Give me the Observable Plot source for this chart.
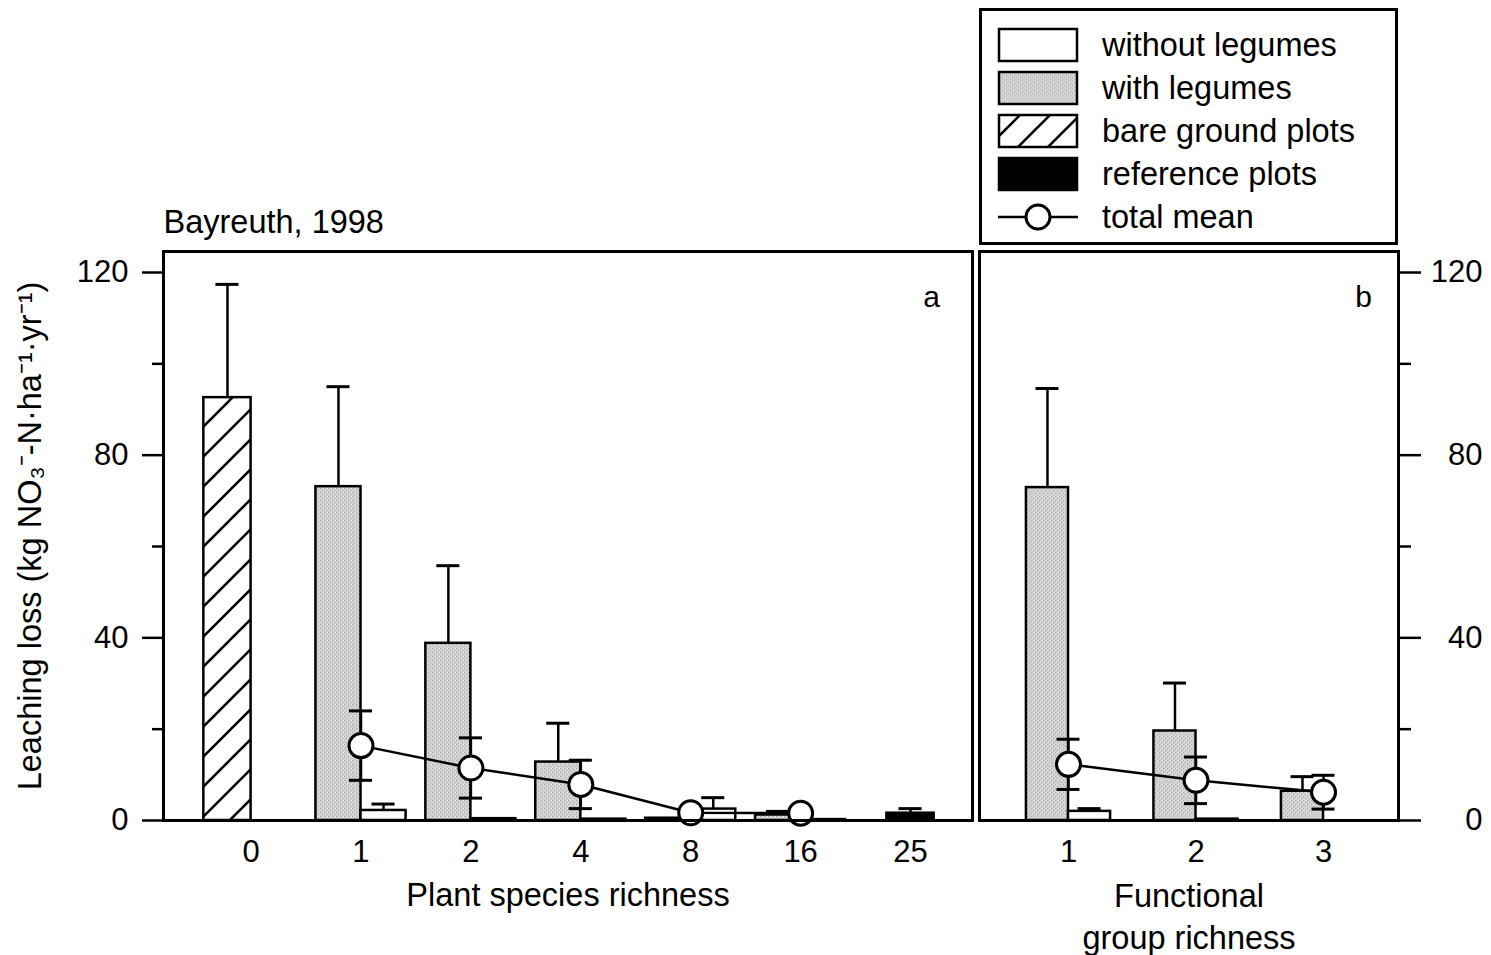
<!DOCTYPE html>
<html>
<head>
<meta charset="utf-8">
<script src="https://cdn.jsdelivr.net/npm/d3@7"></script>
<script src="https://cdn.jsdelivr.net/npm/@observablehq/plot@0.6"></script>
<style>
  html, body { margin: 0; padding: 0; background: #fff; overflow: hidden; }
  #wrap { position: relative; width: 1491px; height: 955px; overflow: hidden;
          font-family: "Liberation Sans", Arial, Helvetica, sans-serif; }
  #wrap > svg { position: absolute; top: 0; }
</style>
</head>
<body>
<svg width="0" height="0" style="position:absolute">
  <defs>
    <pattern id="stipple" width="4" height="4" patternUnits="userSpaceOnUse">
      <rect width="4" height="4" fill="#d2d2d2"/>
      <rect x="0" y="0" width="1" height="1" fill="#a2a2a2"/>
      <rect x="2" y="2" width="1" height="1" fill="#b0b0b0"/>
      <rect x="3" y="0" width="1" height="1" fill="#e4e4e4"/>
    </pattern>
    <pattern id="hatch" width="30" height="30" patternUnits="userSpaceOnUse">
      <rect width="30" height="30" fill="white"/>
      <path d="M-7.5,37.5 L37.5,-7.5 M-7.5,7.5 L7.5,-7.5 M22.5,37.5 L37.5,22.5" stroke="black" stroke-width="2.6"/>
    </pattern>
  </defs>
</svg>
<div id="wrap"></div>
<script>
// ---------------- DATA ----------------
// Panel a: plant species richness
const speciesRichness = ["0", "1", "2", "4", "8", "16", "25"];
const aWithoutLegumes   = [null, 2.2, 0.4, 0.3, 2.5, 0.2, null];
const aWithoutLegumesSE = [null, 1.4, null, null, 2.5, null, null];
const aWithLegumes      = [null, 73.1, 38.8, 12.8, 0.5, 1.2, null];
const aWithLegumesSE    = [null, 21.9, 17.0, 8.5, null, 0.8, null];
const aBareGround       = [92.6, null, null, null, null, null, null];
const aBareGroundSE     = [24.8, null, null, null, null, null, null];
const aReference        = [null, null, null, null, null, null, 1.6];
const aReferenceSE      = [null, null, null, null, null, null, 1.0];
const aTotalMean        = [null, 16.4, 11.5, 7.9, 1.7, 1.6, null];
const aTotalMeanSE      = [null, 7.6, 6.6, 5.3, 0.8, 0.8, null];

// Panel b: functional group richness
const functionalRichness = ["1", "2", "3"];
const bWithoutLegumes   = [2.0, 0.3, null];
const bWithoutLegumesSE = [0.6, null, null];
const bWithLegumes      = [72.9, 19.6, 6.4];
const bWithLegumesSE    = [21.7, 10.5, 3.2];
const bTotalMean        = [12.3, 8.8, 6.2];
const bTotalMeanSE      = [5.5, 5.1, 3.7];

const yTicks = [0, 40, 80, 120];
const yMinorTicks = [20, 60, 100];
const yLabel = "Leaching loss (kg NO\u2083\u207B-N\u00B7ha\u207B\u00B9\u00B7yr\u207B\u00B9)";
const titleText = "Bayreuth, 1998";
const xLabelA = "Plant species richness";
const xLabelB = "Functional\ngroup richness";
const legendItems = ["without legumes", "with legumes", "bare ground plots", "reference plots", "total mean"];

// ---------------- HELPERS ----------------
const FONT = "Liberation Sans, Arial, Helvetica, sans-serif";
const yDomain = [0, 124.6];
const LABEL_SIZE = 32.5;

function toRows(cats, values, errors) {
  return cats.map((c, i) => ({i, cat: c, v: values[i], se: errors ? errors[i] : null}))
             .filter(d => d.v != null);
}

// slot: -1 = left of category, 0 = right of category, -0.5 = centred
function barMarks(rows, slot, barW, capW, fill) {
  const x1 = d => d.i + slot * barW;
  const x2 = d => d.i + (slot + 1) * barW;
  const xc = d => d.i + (slot + 0.5) * barW;
  const withErr = rows.filter(d => d.se != null);
  return [
    Plot.rect(rows, {x1, x2, y1: 0, y2: "v", fill, stroke: "black", strokeWidth: 2.5}),
    Plot.ruleX(withErr, {x: xc, y1: "v", y2: d => d.v + d.se, stroke: "black", strokeWidth: 2.5}),
    Plot.ruleY(withErr, {y: d => d.v + d.se, x1: d => xc(d) - capW, x2: d => xc(d) + capW, stroke: "black", strokeWidth: 3})
  ];
}

function meanMarks(rows, capW) {
  const withErr = rows.filter(d => d.se != null);
  return [
    Plot.line(rows, {x: "i", y: "v", stroke: "black", strokeWidth: 2.5}),
    Plot.ruleX(withErr, {x: "i", y1: d => d.v - d.se, y2: d => d.v + d.se, stroke: "black", strokeWidth: 2.5}),
    Plot.ruleY(withErr, {y: d => d.v + d.se, x1: d => d.i - capW, x2: d => d.i + capW, stroke: "black", strokeWidth: 3}),
    Plot.ruleY(withErr, {y: d => d.v - d.se, x1: d => d.i - capW, x2: d => d.i + capW, stroke: "black", strokeWidth: 3}),
    Plot.dot(rows, {x: "i", y: "v", r: 12, fill: "white", stroke: "black", strokeWidth: 3})
  ];
}

function yAxisMarks(anchor, textAnchor, tickPadding, majorSize, minorSize) {
  return [
    Plot.axisY({anchor, ticks: yTicks, tickSize: majorSize, tickPadding, textAnchor,
                tickFormat: d => String(d), label: null, strokeWidth: 2.5}),
    Plot.axisY({anchor, ticks: yMinorTicks, tickSize: minorSize, tickFormat: () => "",
                label: null, strokeWidth: 2.5})
  ];
}

const wrap = document.getElementById("wrap");

// ---------------- PANEL A ----------------
{
  const barW = 0.41, capW = 0.105;
  const chart = Plot.plot({
    width: 975, height: 955,
    marginLeft: 163, marginRight: 3, marginTop: 251, marginBottom: 135,
    style: {fontFamily: FONT, fontSize: "31px", background: "transparent", color: "black", overflow: "visible"},
    x: {type: "linear", domain: [-0.797, 6.564]},
    y: {domain: yDomain},
    marks: [
      ...barMarks(toRows(speciesRichness, aBareGround, aBareGroundSE), -1, barW + 0.02, capW, "url(#hatch)"),
      ...barMarks(toRows(speciesRichness, aWithLegumes, aWithLegumesSE), -1, barW, capW, "url(#stipple)"),
      ...barMarks(toRows(speciesRichness, aWithoutLegumes, aWithoutLegumesSE), 0, barW, capW, "white"),
      ...barMarks(toRows(speciesRichness, aReference, aReferenceSE), -0.5, barW + 0.02, capW, "black"),
      ...meanMarks(toRows(speciesRichness, aTotalMean, aTotalMeanSE), capW),
      Plot.frame({stroke: "black", strokeWidth: 3}),
      ...yAxisMarks("left", "end", 14, 21, 11),
      Plot.axisX({ticks: d3.range(speciesRichness.length), tickFormat: i => speciesRichness[i],
                  tickSize: 0, tickPadding: 19, label: null}),
      Plot.text([xLabelA], {frameAnchor: "bottom", dy: 75, textAnchor: "middle", lineAnchor: "middle", fontSize: LABEL_SIZE}),
      Plot.text([yLabel], {frameAnchor: "left", dx: -133, rotate: -90, textAnchor: "middle", lineAnchor: "middle", fontSize: LABEL_SIZE}),
      Plot.text([titleText], {frameAnchor: "top-left", dy: -29, textAnchor: "start", lineAnchor: "middle", fontSize: LABEL_SIZE}),
      Plot.text(["a"], {frameAnchor: "top-right", dx: -41, dy: 46, textAnchor: "middle", lineAnchor: "middle", fontSize: 30})
    ]
  });
  chart.style.left = "0px";
  wrap.appendChild(chart);
}

// ---------------- PANEL B ----------------
{
  const barW = 0.33, capW = 0.09;
  const chart = Plot.plot({
    width: 516, height: 955,
    marginLeft: 4, marginRight: 93, marginTop: 251, marginBottom: 135,
    style: {fontFamily: FONT, fontSize: "31px", background: "transparent", color: "black", overflow: "visible"},
    x: {type: "linear", domain: [-0.698, 2.588]},
    y: {domain: yDomain},
    marks: [
      ...barMarks(toRows(functionalRichness, bWithLegumes, bWithLegumesSE), -1, barW, capW, "url(#stipple)"),
      ...barMarks(toRows(functionalRichness, bWithoutLegumes, bWithoutLegumesSE), 0, barW, capW, "white"),
      ...meanMarks(toRows(functionalRichness, bTotalMean, bTotalMeanSE), capW),
      Plot.frame({stroke: "black", strokeWidth: 3}),
      ...yAxisMarks("right", "end", 62, 22, 12),
      Plot.axisX({ticks: d3.range(functionalRichness.length), tickFormat: i => functionalRichness[i],
                  tickSize: 0, tickPadding: 19, label: null}),
      Plot.text([xLabelB], {frameAnchor: "bottom", dy: 94, textAnchor: "middle", lineAnchor: "middle", lineHeight: 1.29, fontSize: LABEL_SIZE}),
      Plot.text(["b"], {frameAnchor: "top-right", dx: -35, dy: 46, textAnchor: "middle", lineAnchor: "middle", fontSize: 30})
    ]
  });
  chart.style.left = "975px";
  wrap.appendChild(chart);
}

// ---------------- LEGEND ----------------
{
  const fills = ["white", "url(#stipple)", "url(#hatch)", "black", null];
  const svg = d3.select(wrap).append("svg")
    .attr("width", 421).attr("height", 239)
    .style("left", "978px").style("top", "7px");
  svg.append("rect").attr("x", 2.5).attr("y", 2.5).attr("width", 416).attr("height", 234)
    .attr("fill", "white").attr("stroke", "black").attr("stroke-width", 3);
  legendItems.forEach((label, k) => {
    const cy = 38 + k * 43;
    if (fills[k]) {
      svg.append("rect").attr("x", 21).attr("y", cy - 16).attr("width", 78).attr("height", 32)
        .attr("fill", fills[k]).attr("stroke", "black").attr("stroke-width", 2.5);
    } else {
      svg.append("line").attr("x1", 20).attr("x2", 100).attr("y1", cy).attr("y2", cy)
        .attr("stroke", "black").attr("stroke-width", 2.5);
      svg.append("circle").attr("cx", 60).attr("cy", cy).attr("r", 12)
        .attr("fill", "white").attr("stroke", "black").attr("stroke-width", 3);
    }
    svg.append("text").attr("x", 124).attr("y", cy).attr("dy", "0.35em")
      .attr("font-family", FONT).attr("font-size", LABEL_SIZE).text(label);
  });
}
</script>
</body>
</html>
